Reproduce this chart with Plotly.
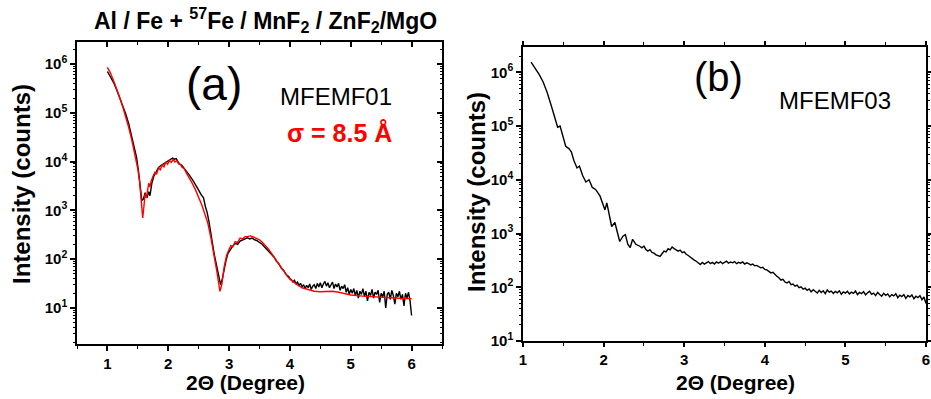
import numpy as np
import plotly.graph_objects as go

# ---------------- data ----------------
# (a) MFEMF01 measured reflectivity (black)
a_meas_x = [1.00, 1.05, 1.10, 1.15, 1.20, 1.25, 1.30, 1.35, 1.40, 1.45, 1.48, 1.51, 1.54, 1.565,
            1.59, 1.62, 1.65, 1.68, 1.70, 1.73, 1.76, 1.80, 1.84, 1.88, 1.92, 1.96, 2.00, 2.04,
            2.07, 2.10, 2.13, 2.16, 2.19, 2.22, 2.26, 2.30, 2.35, 2.40, 2.45, 2.50, 2.54, 2.58,
            2.61, 2.64, 2.67, 2.70, 2.73, 2.76, 2.80, 2.83, 2.86, 2.89, 2.92, 2.95, 2.98, 3.02,
            3.06, 3.10, 3.14, 3.18, 3.22, 3.26, 3.30, 3.34, 3.38, 3.42, 3.46, 3.50, 3.54, 3.58,
            3.62, 3.66, 3.70, 3.74, 3.78, 3.82, 3.86, 3.90, 3.94, 3.98, 4.00]
a_meas_y = [7.0e5, 5.6e5, 4.2e5, 3.0e5, 2.1e5, 1.45e5, 9.5e4, 6.0e4, 3.4e4, 1.9e4, 1.2e4, 6.5e3, 3.2e3, 1.6e3,
            1.7e3, 2.3e3, 1.8e3, 2.4e3, 2.0e3, 3.6e3, 4.9e3, 6.2e3, 7.6e3, 8.3e3, 9.0e3, 9.6e3, 1.02e4, 1.1e4,
            1.18e4, 1.12e4, 1.15e4, 1.0e4, 8.8e3, 8.5e3, 7.4e3, 6.4e3, 5.2e3, 4.2e3, 3.4e3, 2.6e3, 2.1e3, 1.8e3,
            1.2e3, 9.0e2, 5.8e2, 3.0e2, 2.0e2, 1.2e2, 65, 40, 30, 40, 65, 95, 130, 160,
            185, 210, 200, 235, 250, 260, 275, 260, 270, 250, 240, 220, 205, 180,
            160, 145, 125, 110, 90, 80, 65, 58, 48, 44, 40]
a_meas_tail_y = [38, 34, 37, 31, 34, 29, 32, 27, 30, 25, 29, 26, 31, 24, 28, 30, 25, 32, 27, 33,
                 26, 31, 35, 28, 33, 26, 30, 34, 25, 31, 27, 32, 23, 28, 25, 30, 21, 26, 19, 24,
                 20, 25, 18, 23, 16, 22, 19, 25, 17, 22, 14, 21, 18, 24, 16, 21, 19, 23, 13, 20,
                 17, 22, 10, 19, 21, 15, 23, 18, 12, 20, 17, 22, 15, 19, 11, 20, 16, 21, 14, 7]
a_meas_tail_x = list(np.round(np.arange(4.025, 6.0001, 0.025), 3))

# (a) fit, sigma = 8.5 A (red)
a_fit_x = [1.00, 1.05, 1.10, 1.15, 1.20, 1.25, 1.30, 1.35, 1.40, 1.45, 1.50, 1.53, 1.56, 1.58,
           1.60, 1.62, 1.64, 1.66, 1.68, 1.70, 1.72, 1.75, 1.78, 1.81, 1.84, 1.87, 1.90, 1.93,
           1.96, 1.99, 2.02, 2.05, 2.08, 2.11, 2.14, 2.17, 2.20, 2.23, 2.26, 2.30, 2.35, 2.40,
           2.45, 2.50, 2.55, 2.60, 2.65, 2.70, 2.75, 2.80, 2.85, 2.88, 2.92, 2.96, 3.00, 3.03,
           3.06, 3.10, 3.14, 3.18, 3.22, 3.26, 3.30, 3.35, 3.40, 3.45, 3.50, 3.55, 3.60, 3.65,
           3.70, 3.75, 3.80, 3.85, 3.90, 3.95, 4.00, 4.10, 4.20, 4.30, 4.40, 4.50, 4.60, 4.70,
           4.80, 4.90, 5.00, 5.20, 5.40, 5.60, 5.80, 6.00]
a_fit_y = [8.5e5, 6.5e5, 4.6e5, 3.2e5, 2.1e5, 1.35e5, 8.5e4, 5.0e4, 2.8e4, 1.5e4, 7.0e3, 3.8e3, 1.5e3, 7.0e2,
           1.2e3, 2.2e3, 1.8e3, 2.6e3, 3.6e3, 3.0e3, 4.0e3, 5.0e3, 6.0e3, 5.6e3, 7.4e3, 6.8e3, 8.6e3, 7.8e3,
           9.8e3, 8.8e3, 1.05e4, 9.6e3, 1.1e4, 9.8e3, 1.05e4, 9.0e3, 8.8e3, 7.6e3, 7.2e3, 5.8e3, 4.6e3, 3.5e3,
           2.6e3, 1.9e3, 1.3e3, 8.5e2, 5.5e2, 2.8e2, 1.3e2, 55, 22, 30, 70, 120, 160, 190,
           180, 230, 220, 270, 260, 290, 290, 300, 285, 270, 250, 220, 190, 160,
           130, 105, 85, 68, 55, 46, 39, 31, 26, 24, 22, 21.5, 22, 22,
           21, 19.5, 18.5, 17.5, 16.8, 16.2, 15.8, 15.5]

# (b) MFEMF03 measured reflectivity
b_x_head = [1.10, 1.15, 1.20, 1.25, 1.30, 1.35, 1.40, 1.43, 1.46, 1.49, 1.53, 1.57, 1.60, 1.63,
            1.67, 1.70, 1.74, 1.78, 1.82, 1.86, 1.90, 1.955, 1.99, 2.017, 2.04, 2.07, 2.10, 2.14,
            2.17, 2.20, 2.24, 2.27, 2.30, 2.33, 2.36, 2.40, 2.45]
b_y_head = [1.55e6, 1.2e6, 9.1e5, 6.6e5, 4.2e5, 2.4e5, 1.26e5, 9.5e4, 1.0e5, 6.6e4, 4.2e4, 3.8e4, 3.3e4, 2.3e4,
            1.66e4, 1.8e4, 1.2e4, 9.1e3, 1.0e4, 7.2e3, 6.6e3, 5.0e3, 3.5e3, 2.75e3, 3.7e3, 2.2e3, 1.35e3, 1.6e3,
            1.0e3, 7.1e2, 8.9e2, 9.5e2, 6.3e2, 5.5e2, 7.8e2, 6.3e2, 5.8e2]
b_y_tail = [540, 585, 505, 470, 500, 445, 430, 400, 385, 375, 420, 470, 455, 520, 495, 560, 525, 500, 470, 490,
            440, 455, 410, 390, 360, 340, 320, 305, 280, 265, 290, 270, 285, 300, 275, 290, 270, 295, 280, 300,
            275, 290, 305, 280, 295, 285, 300, 275, 290, 280, 295, 270, 285, 275, 260, 270, 250, 255, 240, 230,
            235, 215, 210, 200, 185, 190, 170, 160, 150, 135, 140, 125, 120, 128, 112, 115, 105, 110, 98, 102,
            92, 96, 88, 93, 82, 90, 84, 78, 88, 80, 86, 76, 89, 81, 85, 77, 84, 79, 86, 74,
            82, 78, 84, 75, 81, 77, 85, 73, 80, 76, 83, 72, 79, 84, 74, 78, 70, 80, 73, 68,
            77, 71, 75, 66, 73, 69, 76, 64, 71, 67, 73, 62, 70, 66, 72, 61, 68, 64, 70, 59,
            66, 50]
b_x_tail = list(np.round(np.arange(2.475, 6.0001, 0.025), 3))

# tick labels
x_tickvals = [1, 2, 3, 4, 5, 6]
x_ticktext = ["1", "2", "3", "4", "5", "6"]
y_tickvals = [1e1, 1e2, 1e3, 1e4, 1e5, 1e6]
y_ticktext = ["10<sup>1</sup>", "10<sup>2</sup>", "10<sup>3</sup>", "10<sup>4</sup>",
              "10<sup>5</sup>", "10<sup>6</sup>"]
y_minorvals = [m * d for d in [1, 10, 100, 1e3, 1e4, 1e5, 1e6] for m in range(2, 10)]

title_text = "<b>Al / Fe + <sup>57</sup>Fe / MnF<sub>2</sub> / ZnF<sub>2</sub>/MgO</b>"

# ---------------- figure ----------------
W, H = 931, 399
FONT = "Liberation Sans"


def px(v):
    return v / W


def py(v):
    return 1 - v / H


fig = go.Figure()
fig.add_trace(go.Scatter(x=a_meas_x + a_meas_tail_x, y=a_meas_y + a_meas_tail_y, mode="lines",
                         line=dict(color="black", width=1.4), xaxis="x", yaxis="y", showlegend=False))
fig.add_trace(go.Scatter(x=a_fit_x, y=a_fit_y, mode="lines",
                         line=dict(color="#ff0000", width=1.4), xaxis="x", yaxis="y", showlegend=False))
fig.add_trace(go.Scatter(x=b_x_head + b_x_tail, y=b_y_head + b_y_tail, mode="lines",
                         line=dict(color="black", width=1.4), xaxis="x2", yaxis="y2", showlegend=False))

xtickfont = dict(family=FONT, size=15, color="black", weight="bold")
ytickfont = dict(family=FONT, size=15, color="black", weight="bold")
common = dict(showgrid=False, zeroline=False, showline=True, linecolor="black", linewidth=1.5,
              tickcolor="black", tickwidth=1.5, automargin=False)
xticks = dict(tickmode="array", tickvals=x_tickvals, ticktext=x_ticktext)
yticks = dict(tickmode="array", tickvals=y_tickvals, ticktext=y_ticktext)


def xminor(direction):
    return dict(tickmode="linear", dtick=0.5, tick0=0, ticks=direction, ticklen=3, tickwidth=1.2,
                tickcolor="black")


def yminor(direction):
    return dict(tickmode="array", tickvals=y_minorvals, ticks=direction, ticklen=2.5, tickwidth=1,
                tickcolor="black")


xa_range = [0.5, 6.5]
ya_range = [0.262, 6.45]
xb_range = [1, 6]
yb_range = [1, 6.47]

dom_xa = [px(77), px(442)]
dom_ya = [py(344), py(42)]
dom_xb = [px(523), px(926)]
dom_yb = [py(341), py(47)]

fig.update_layout(
    width=W, height=H, margin=dict(l=0, r=0, t=0, b=0, autoexpand=False),
    paper_bgcolor="white", plot_bgcolor="white",
    font=dict(family=FONT, color="black"),
    xaxis=dict(domain=dom_xa, anchor="y", range=xa_range, ticks="outside", ticklen=5,
               minor=xminor("outside"), mirror=True, tickfont=xtickfont, **xticks, **common),
    yaxis=dict(domain=dom_ya, anchor="x", type="log", range=ya_range, ticks="outside", ticklen=5,
               minor=yminor("outside"), mirror=True, tickfont=ytickfont, **yticks, **common),
    xaxis3=dict(overlaying="x", anchor="y", side="top", range=xa_range, ticks="inside", ticklen=5,
                minor=xminor("inside"), showticklabels=False, showgrid=False, zeroline=False,
                showline=False, tickcolor="black", tickwidth=1.5, automargin=False, **xticks),
    yaxis3=dict(overlaying="y", anchor="x", side="right", type="log", range=ya_range,
                ticks="inside", ticklen=5, minor=yminor("inside"), showticklabels=False,
                showgrid=False, zeroline=False, showline=False, tickcolor="black", tickwidth=1.5,
                automargin=False, **yticks),
    xaxis2=dict(domain=dom_xb, anchor="y2", range=xb_range, ticks="outside", ticklen=4,
                minor=xminor("outside"), mirror="ticks", tickfont=xtickfont, **xticks, **common),
    yaxis2=dict(domain=dom_yb, anchor="x2", type="log", range=yb_range, ticks="outside", ticklen=5,
                minor=yminor("outside"), mirror="ticks", tickfont=ytickfont, **yticks, **common),
)

# empty traces so the overlay tick axes are drawn
fig.add_trace(go.Scatter(x=[None], y=[None], xaxis="x3", yaxis="y", showlegend=False, hoverinfo="skip"))
fig.add_trace(go.Scatter(x=[None], y=[None], xaxis="x", yaxis="y3", showlegend=False, hoverinfo="skip"))

ann = []


def add(text, x, y, size, color="black", bold=False, angle=0, xanchor="center", family=FONT):
    ann.append(dict(text=text, x=px(x), y=py(y), xref="paper", yref="paper", showarrow=False,
                    xanchor=xanchor, yanchor="middle", textangle=angle,
                    font=dict(family=family, size=size, color=color, weight="bold" if bold else "normal")))


add(title_text, 265, 20, 23, bold=True)
add("(a)", 214, 84, 46)
add("MFEMF01", 394, 97, 24, xanchor="right")
add("σ = 8.5 Å", 394, 133, 25, color="#ff0000", bold=True, xanchor="right")
add("(b)", 718, 77, 40)
add("MFEMF03", 835, 101, 24)
add("Intensity (counts)", 21, 184, 24, bold=True, angle=-90)
add("Intensity (counts)", 476, 192, 24, bold=True, angle=-90)
add("2Θ (Degree)", 245, 382, 21, bold=True)
add("2Θ (Degree)", 735, 382, 21, bold=True)
fig.update_layout(annotations=ann)

fig.write_html("out.html", config={"displayModeBar": False},
               post_script="document.body.style.margin='0';document.body.style.overflow='hidden';")
